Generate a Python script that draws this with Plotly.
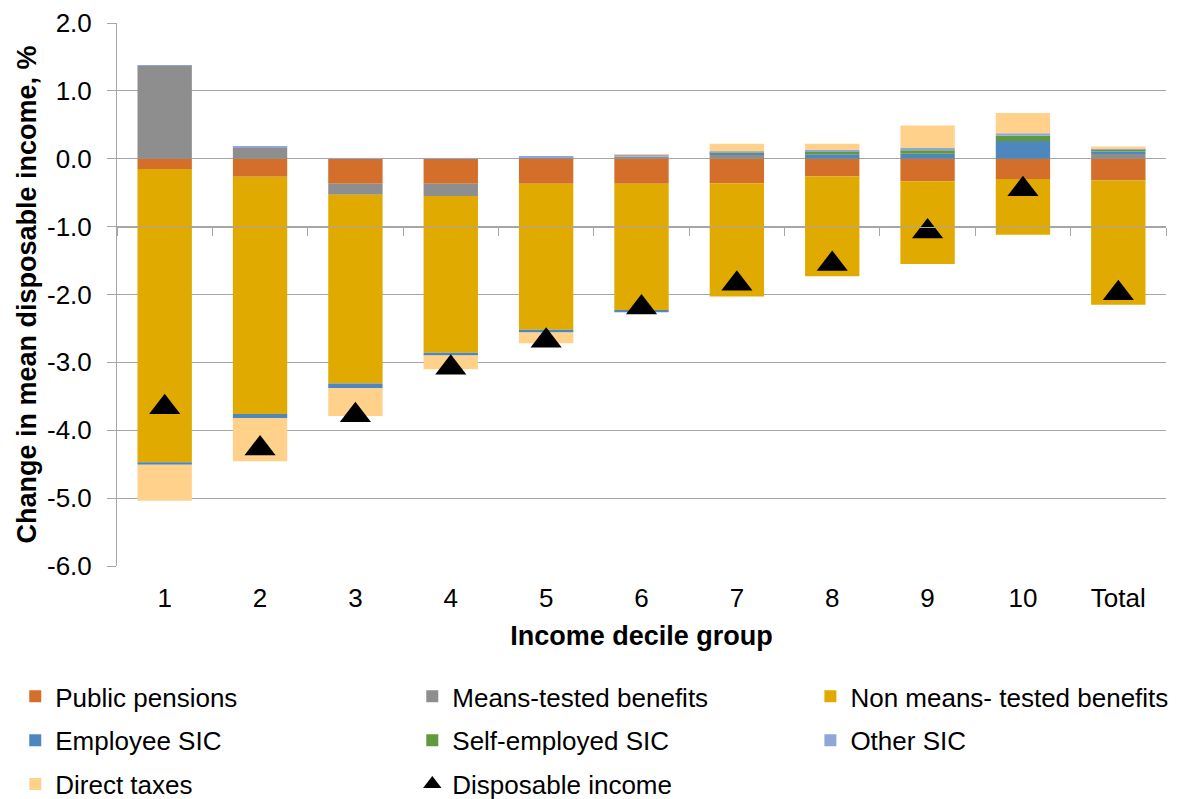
import plotly.graph_objects as go

categories = ["1", "2", "3", "4", "5", "6", "7", "8", "9", "10", "Total"]
public_pensions = [-0.15, -0.265, -0.37, -0.37, -0.37, -0.37, -0.36, -0.26, -0.33, -0.30, -0.32]
means_tested = [1.37, 0.17, -0.16, -0.18, 0.02, 0.03, 0.06, 0.005, 0.005, 0.0, 0.07]
non_means_tested = [-4.32, -3.495, -2.78, -2.31, -2.15, -1.86, -1.67, -1.47, -1.22, -0.82, -1.83]
employee_sic = [-0.04, -0.06, -0.07, -0.04, -0.04, -0.03, 0.02, 0.06, 0.07, 0.26, 0.035]
self_employed_sic = [0.0, 0.0, 0.0, 0.0, 0.0, 0.0, 0.01, 0.04, 0.05, 0.08, 0.035]
other_sic = [0.01, 0.01, 0.01, 0.005, 0.02, 0.03, 0.02, 0.025, 0.035, 0.035, 0.015]
direct_taxes = [-0.53, -0.635, -0.41, -0.20, -0.16, 0.01, 0.11, 0.09, 0.33, 0.30, 0.025]
disposable_income = [-3.66, -4.27, -3.78, -3.08, -2.68, -2.19, -1.84, -1.55, -1.07, -0.45, -1.98]

y_ticks = [2, 1, 0, -1, -2, -3, -4, -5, -6]
y_tick_text = [f"{v:.1f}" for v in y_ticks]

FONT = "Liberation Sans, Arial, sans-serif"
GRID = "#A6A6A6"

series = [
    ("Public pensions", public_pensions, "#D46F2B", "legend"),
    ("Means-tested benefits", means_tested, "#8E8E8E", "legend2"),
    ("Non means- tested benefits", non_means_tested, "#E1AA00", "legend3"),
    ("Employee SIC", employee_sic, "#4E87BE", "legend"),
    ("Self-employed SIC", self_employed_sic, "#5F9A3E", "legend2"),
    ("Other SIC", other_sic, "#90A6D9", "legend3"),
    ("Direct taxes", direct_taxes, "#FFD18A", "legend"),
]

fig = go.Figure()
for i, (name, vals, color, leg) in enumerate(series):
    fig.add_trace(go.Bar(
        x=categories, y=vals, name=name,
        marker=dict(color=color, line=dict(width=0)),
        legend=leg, legendgroup=f"g{i}",
    ))

fig.add_trace(go.Scatter(
    x=categories, y=disposable_income, name="Disposable income",
    mode="markers",
    marker=dict(symbol="triangle-up", size=27, color="black"),
    legend="legend2", legendgroup="g7",
))

# helper trace for the category axis drawn at y = -1 (Excel-style crossing)
fig.add_trace(go.Scatter(
    x=categories, y=disposable_income, xaxis="x2", mode="markers",
    marker=dict(opacity=0), showlegend=False, hoverinfo="skip",
))

legend_common = dict(
    font=dict(family=FONT, size=26, color="#000000"),
    yanchor="top", xanchor="left", orientation="v",
    tracegroupgap=7, bgcolor="rgba(0,0,0,0)", itemwidth=30,
    traceorder="grouped",
)

n = len(categories)
fig.update_layout(
    width=1180, height=799,
    margin=dict(l=117, r=14, t=23, b=233, autoexpand=False),
    paper_bgcolor="white", plot_bgcolor="white",
    barmode="relative", bargap=0.43,
    font=dict(family=FONT, size=25, color="#000000"),
    xaxis=dict(
        type="category", categoryorder="array", categoryarray=categories,
        range=[-0.5, n - 0.5],
        showgrid=False, showline=False, ticks="", zeroline=False,
        tickfont=dict(family=FONT, size=26, color="#000000"),
        ticklabelstandoff=14,
        title=dict(text="<b>Income decile group</b>", standoff=14,
                   font=dict(family=FONT, size=27, color="#000000")),
        automargin=False,
    ),
    xaxis2=dict(
        type="category", categoryorder="array", categoryarray=categories,
        overlaying="x", matches="x", anchor="free", position=0.625,
        showline=True, linecolor=GRID, linewidth=1,
        ticks="outside", tickson="boundaries", ticklen=8, tickcolor=GRID, tickwidth=1,
        showticklabels=False, showgrid=False, zeroline=False,
    ),
    yaxis=dict(
        range=[-6, 2], tickvals=y_ticks, ticktext=y_tick_text,
        showgrid=True, gridcolor=GRID, gridwidth=1,
        zeroline=False, showline=True, linecolor=GRID, linewidth=1,
        ticks="outside", ticklen=9, tickcolor=GRID,
        tickfont=dict(family=FONT, size=26, color="#000000"),
        ticklabelstandoff=10,
        title=dict(text="<b>Change in mean disposable income, %</b>", standoff=2,
                   font=dict(family=FONT, size=27, color="#000000")),
        automargin=False,
    ),
    legend=dict(x=-0.097, y=-0.197, **legend_common),
    legend2=dict(x=0.2815, y=-0.197, **legend_common),
    legend3=dict(x=0.661, y=-0.197, **legend_common),
)

fig.write_html("out.html")
